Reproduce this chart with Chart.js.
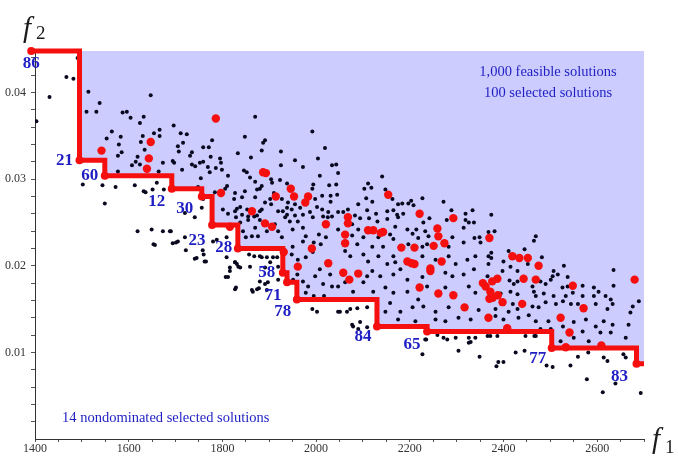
<!DOCTYPE html>
<html>
<head>
<meta charset="utf-8">
<script src="https://cdn.jsdelivr.net/npm/chart.js@4.4.1/dist/chart.umd.min.js"></script>
<style>
  html, body { margin: 0; padding: 0; background: #fff; }
  #wrap { width: 678px; height: 458px; }
</style>
</head>
<body>
<div id="wrap"><canvas id="paretoChart" width="678" height="458"></canvas></div>
<script>
// nondominated selected solutions (staircase corners), in order of f1
var frontIds = ['86', '21', '60', '12', '30', '23', '28', '58', '71', '78', '84', '65', '77', '83'];
var frontF1 = [1392, 1495, 1549, 1692, 1756, 1778, 1833, 1929, 1938, 1959, 2130, 2237, 2503, 2684];
var frontF2 = [0.0448, 0.0322, 0.0304, 0.0289, 0.0280, 0.0247, 0.0220, 0.0192, 0.0181, 0.0161, 0.0130, 0.0124, 0.0105, 0.0087];
var frontEndF1 = 2700;

// other selected solutions (red)
var selected = [
  [1542,.0333],[1647,.0343],[1643,.0324],[1639,.0312],[1786,.0370],[1887,.0308],[1893,.0307],[1946,.0289],
  [1914,.0280],[1953,.0280],[1983,.0280],[1977,.0273],[1797,.0284],[1863,.0263],[1891,.0249],[1906,.0245],
  [2021,.0248],[1816,.0245],[1991,.0220],[1961,.0199],[2026,.0203],[1931,.0216],[2154,.0282],[2221,.0260],
  [2293,.0255],[2068,.0256],[2068,.0249],[2111,.0241],[2122,.0241],[2143,.0239],[2062,.0236],[2062,.0226],
  [2259,.0243],[2261,.0234],[2274,.0226],[2251,.0223],[2182,.0221],[2210,.0221],[2058,.0192],[2071,.0184],
  [2090,.0191],[2195,.0205],[2210,.0202],[2204,.0203],[2244,.0194],[2244,.0197],[2268,.0205],[2221,.0175],
  [2261,.0168],[2293,.0166],[2317,.0152],[2356,.0180],[2370,.0232],[2419,.0211],[2434,.0209],[2452,.0209],
  [2475,.0200],[2387,.0185],[2376,.0182],[2443,.0185],[2469,.0184],[2548,.0177],[2680,.0184],[2370,.0162],
  [2398,.0158],[2440,.0156],[2368,.0140],[2522,.0140],[2571,.0151],[2541,.0123],[2408,.0128],[2533,.0106],
  [2609,.0108],[2362,.0176],[2372,.0170],[2377,.0163],[2388,.0166],[2138,.0238]
];

// feasible solutions (black)
var feasible = [
  [1491,.0440],[1467,.0418],[1482,.0416],[1431,.0395],[1403,.0367],[1514,.0401],[1538,.0388],[1510,.0378],
  [1531,.0378],[1647,.0397],[1587,.0377],[1596,.0378],[1604,.0371],[1624,.0365],[1632,.0372],[1564,.0355],
  [1553,.0347],[1583,.0349],[1579,.0340],[1585,.0331],[1577,.0327],[1630,.0350],[1654,.0353],[1666,.0350],
  [1666,.0357],[1626,.0343],[1634,.0334],[1619,.0326],[1615,.0320],[1607,.0316],[1624,.0317],[1696,.0362],
  [1711,.0353],[1705,.0338],[1716,.0342],[1707,.0332],[1694,.0321],[1697,.0319],[1673,.0319],[1664,.0309],
  [1714,.0311],[1577,.0309],[1502,.0294],[1544,.0293],[1572,.0291],[1613,.0293],[1632,.0286],[1636,.0285],
  [1660,.0296],[1675,.0288],[1549,.0272],[1651,.0288],
  [1870,.0372],[1992,.0355],[1848,.0349],[1891,.0345],[1887,.0342],[1884,.0333],[1925,.0332],[1833,.0330],
  [1778,.0345],[1759,.0337],[1771,.0337],[1735,.0331],[1731,.0327],[1724,.0352],[1775,.0326],[1795,.0324],
  [1797,.0319],[1759,.0320],[1752,.0319],[1735,.0317],[1742,.0315],[1769,.0314],[1786,.0313],[1799,.0311],
  [1773,.0308],[1754,.0301],[1812,.0304],[1846,.0310],[1852,.0308],[1861,.0325],[1859,.0302],[1870,.0297],
  [1884,.0292],[1880,.0289],[1904,.0300],[1906,.0296],[1923,.0299],[1925,.0316],[1938,.0295],[1955,.0322],
  [1972,.0314],[2004,.0324],[2019,.0336],[2008,.0304],[2028,.0293],[2034,.0316],[1994,.0294],[1992,.0289],
  [1998,.0277],[2013,.0281],[2031,.0281],[2031,.0274],[2002,.0268],[2013,.0265],[1966,.0267],[1955,.0271],
  [1940,.0273],[1938,.0267],[1927,.0277],[1910,.0284],[1902,.0277],[1904,.0271],[1891,.0273],[1884,.0265],
  [1870,.0279],[1874,.0288],[1848,.0286],[1842,.0279],[1827,.0284],[1825,.0277],[1810,.0292],[1806,.0289],
  [1784,.0285],[1759,.0277],[1748,.0291],[1838,.0268],[1831,.0266],[1812,.0260],[1855,.0257],[1874,.0258],
  [1919,.0263],[1938,.0259],[1955,.0258],[1987,.0262],[2015,.0257],[2026,.0262],[2034,.0257],
  [1649,.0242],[1673,.0240],[1690,.0240],[1656,.0224],[1694,.0226],[1705,.0228],[1720,.0233],[1722,.0218],
  [1745,.0209],[1758,.0218],[1760,.0213],[1765,.0205],[1741,.0256],[1756,.0267],[1720,.0261],[1780,.0228],
  [1788,.0230],[1809,.0233],[1809,.0210],[1816,.0198],[1807,.0187],[1827,.0204],[1831,.0202],[1834,.0199],
  [1838,.0198],[1829,.0175],[1857,.0213],[1859,.0199],[1868,.0211],[1880,.0211],[1895,.0210],[1902,.0204],
  [1917,.0210],[1919,.0199],[1891,.0198],[1880,.0182],[1891,.0179],[1897,.0181],[1863,.0172],[1874,.0173],
  [1878,.0174],[1895,.0172],[1919,.0184],
  [1801,.0265],[1827,.0263],[1829,.0256],[1842,.0259],[1853,.0265],[1855,.0253],[1838,.0250],[1868,.0257],
  [1880,.0263],[1880,.0253],[1870,.0244],[1844,.0240],[1850,.0233],[1863,.0234],[1876,.0234],[1895,.0240],
  [1912,.0248],[1919,.0240],[1927,.0233],[1929,.0263],[1948,.0265],[1944,.0251],[1934,.0256],[1961,.0251],
  [1950,.0242],[1972,.0244],[1978,.0234],[1972,.0228],[1950,.0222],[1948,.0213],[1961,.0207],[1978,.0210],
  [1993,.0216],[1995,.0227],[2010,.0225],[2006,.0236],[2021,.0233],[2025,.0256],[1993,.0256],[1972,.0259],
  [2008,.0196],[2030,.0190],[1998,.0188],[2015,.0179],[1983,.0176],[1972,.0182],[1960,.0190],[1951,.0184],
  [2034,.0176],[1978,.0169],[1995,.0165],[2017,.0165],[1961,.0199],
  [1619,.0240],[1688,.0240],[1653,.0225],[1701,.0227],[1741,.0208],[1762,.0205],[1812,.0187],[1827,.0173],
  [1816,.0194],[1827,.0204],[1865,.0170],[1884,.0210],[1908,.0210],[1992,.0150],[2002,.0147],[2047,.0147],
  [2043,.0317],[2047,.0307],[2043,.0294],[2045,.0282],[2141,.0303],[2111,.0295],[2103,.0289],[2118,.0290],
  [2148,.0288],[2107,.0278],[2120,.0274],[2163,.0277],[2175,.0271],[2184,.0272],[2197,.0272],[2203,.0275],
  [2208,.0270],[2227,.0278],[2272,.0274],[2090,.0271],[2068,.0265],[2058,.0262],[2047,.0262],[2083,.0258],
  [2094,.0255],[2109,.0264],[2113,.0255],[2128,.0260],[2131,.0251],[2152,.0263],[2152,.0254],[2165,.0264],
  [2173,.0259],[2175,.0256],[2186,.0260],[2169,.0245],[2077,.0248],[2090,.0242],[2047,.0242],[2077,.0235],
  [2101,.0233],[2133,.0233],[2158,.0236],[2165,.0231],[2195,.0242],[2206,.0237],[2214,.0242],[2229,.0250],
  [2233,.0240],[2240,.0234],[2218,.0232],[2242,.0255],[2279,.0253],[2289,.0264],[2319,.0260],[2334,.0264],
  [2315,.0244],[2326,.0250],[2337,.0250],[2319,.0253],[2338,.0232],[2349,.0233],[2351,.0227],[2315,.0227],
  [2291,.0233],[2283,.0222],[2237,.0225],[2227,.0222],[2197,.0225],[2143,.0222],[2120,.0222],[2088,.0225],
  [2062,.0217],[2073,.0211],[2101,.0213],[2111,.0205],[2133,.0211],[2152,.0202],[2165,.0211],[2169,.0204],
  [2180,.0196],[2227,.0211],[2255,.0207],[2283,.0211],[2298,.0202],[2323,.0207],[2340,.0211],[2337,.0196],
  [2315,.0190],[2291,.0188],[2276,.0192],[2227,.0187],[2195,.0184],[2165,.0190],[2137,.0188],[2120,.0194],
  [2109,.0188],[2101,.0181],[2062,.0181],[2047,.0176],[2079,.0170],[2122,.0170],[2148,.0175],[2165,.0169],
  [2195,.0170],[2237,.0176],[2276,.0175],[2326,.0176],[2340,.0169],[2218,.0161],[2158,.0157],[2148,.0147],
  [2180,.0147],[2206,.0152],[2229,.0153],[2255,.0147],[2283,.0152],[2304,.0140],[2330,.0138],[2347,.0149],
  [2175,.0138],[2212,.0136],[2255,.0138],[2276,.0136],
  [2051,.0147],[2066,.0147],[2073,.0150],[2088,.0151],[2109,.0152],[2094,.0135],[2109,.0129],[2077,.0132],
  [2233,.0115],[2272,.0117],[2298,.0117],[2326,.0117],[2340,.0117],[2330,.0112],
  [2079,.0130],[2090,.0127],[2227,.0098],[2235,.0115],[2259,.0120],[2280,.0115],[2304,.0102],[2326,.0111],
  [2349,.0095],[2366,.0119],[2387,.0119],[2385,.0084],[2389,.0089],[2400,.0089],[2426,.0100],[2445,.0102],
  [2466,.0119],[2492,.0085],[2505,.0083],[2543,.0085],[2559,.0095],[2578,.0069],[2581,.0100],[2612,.0054],
  [2614,.0094],[2622,.0090],[2639,.0064],[2656,.0098],[2661,.0094],[2693,.0053],
  [2374,.0259],[2368,.0239],[2381,.0240],[2469,.0234],[2465,.0229],[2374,.0215],[2368,.0211],[2374,.0209],
  [2411,.0217],[2445,.0219],[2482,.0210],[2368,.0202],[2400,.0205],[2415,.0199],[2452,.0202],[2529,.0200],
  [2398,.0194],[2430,.0194],[2366,.0188],[2413,.0183],[2422,.0179],[2430,.0182],[2479,.0182],[2490,.0179],
  [2507,.0194],[2516,.0190],[2505,.0188],[2501,.0184],[2537,.0187],[2526,.0175],[2537,.0176],[2569,.0177],
  [2593,.0175],[2635,.0195],[2635,.0177],[2462,.0176],
  [2372,.0170],[2394,.0168],[2415,.0170],[2430,.0167],[2465,.0170],[2469,.0165],[2486,.0168],[2507,.0165],
  [2533,.0165],[2548,.0169],[2569,.0165],[2593,.0165],[2603,.0170],[2618,.0165],[2629,.0161],[2633,.0156],
  [2622,.0150],[2597,.0156],[2559,.0156],[2544,.0156],[2527,.0159],[2512,.0156],[2490,.0158],[2475,.0152],
  [2462,.0153],[2420,.0156],[2430,.0150],[2411,.0147],[2383,.0150],[2383,.0142],[2400,.0138],[2432,.0140],
  [2454,.0143],[2469,.0136],[2496,.0136],[2479,.0127],[2501,.0127],[2527,.0130],[2550,.0135],[2576,.0138],
  [2569,.0124],[2597,.0130],[2614,.0136],[2633,.0132],[2667,.0132],[2671,.0146],[2676,.0153],[2689,.0159],
  [2661,.0117],[2629,.0123],[2607,.0123],[2582,.0113],[2550,.0117],[2522,.0113],[2469,.0119],[2447,.0119],
  [2372,.0119]
];

// axes
var xMin = 1400, xMax = 2700, yMin = 0, yMax = 0.0448;
var xTickLabels = [1400, 1600, 1800, 2000, 2200, 2400, 2600];
var yTickLabels = [0.01, 0.02, 0.03, 0.04];
var xMinorStep = 50, yMinorStep = 0.002;

var noteTop = ['1,000 feasible solutions', '100 selected solutions'];
var noteBottom = '14 nondominated selected solutions';

// where each frontier number sits relative to its point (px)
var labelOffsets = [[0, 13], [-15, 0], [-15, 0], [-15, 13], [-17, 12], [-15, 16], [-14, -1],
  [-16, 0], [-14, 13], [-14, 12], [-14, 10], [-15, 13], [-14, 11], [-17, 13]];

var RED = 'rgb(245,15,15)';
var SHADE = 'rgb(204,204,255)';
var BLUE = 'rgb(30,30,195)';
var SERIF = '"Liberation Serif", "Times New Roman", serif';

var frontPts = frontF1.map(function (x, i) { return { x: x, y: frontF2[i] }; });
frontPts.push({ x: frontEndF1, y: frontF2[frontF2.length - 1] });

var xTickVals = [];
for (var v = xMin; v <= xMax + 0.1; v += xMinorStep) xTickVals.push(v);
var yTickVals = [];
for (var k = 1; k * yMinorStep <= yMax; k++) yTickVals.push(+(k * yMinorStep).toFixed(3));

function isLabel(list, v) {
  return list.some(function (t) { return Math.abs(t - v) < 1e-9; });
}

var notesPlugin = {
  id: 'notes',
  afterDatasetsDraw: function (chart) {
    var ctx = chart.ctx;
    var meta = chart.getDatasetMeta(0);
    ctx.save();
    ctx.fillStyle = BLUE;
    ctx.textAlign = 'center';
    ctx.textBaseline = 'middle';
    ctx.font = 'bold 17px ' + SERIF;
    frontIds.forEach(function (id, i) {
      var pt = meta.data[i];
      ctx.fillText(id, pt.x + labelOffsets[i][0], pt.y + labelOffsets[i][1]);
    });
    ctx.font = '14.5px ' + SERIF;
    ctx.fillText(noteTop[0], 548, 72);
    ctx.fillText(noteTop[1], 548, 93);
    ctx.textAlign = 'left';
    ctx.fillText(noteBottom, 62, 418);

    // axis names
    ctx.fillStyle = '#1a1a1a';
    ctx.textBaseline = 'alphabetic';
    ctx.font = 'italic 29px ' + SERIF;
    ctx.fillText('f', 23, 37);
    ctx.font = '19px ' + SERIF;
    ctx.fillText('2', 36, 39);
    ctx.font = 'italic 29px ' + SERIF;
    ctx.fillText('f', 652, 448);
    ctx.font = '19px ' + SERIF;
    ctx.fillText('1', 665, 453);
    ctx.restore();
  }
};

var ctx = document.getElementById('paretoChart');
var chart = new Chart(ctx, {
  type: 'scatter',
  data: {
    datasets: [{
      type: 'line',
      label: 'nondominated',
      data: frontPts,
      stepped: 'before',
      borderColor: RED,
      borderWidth: 5,
      backgroundColor: SHADE,
      fill: 'end',
      pointRadius: function (c) { return c.dataIndex < frontIds.length ? 4 : 0; },
      pointBackgroundColor: RED,
      pointBorderWidth: 0,
      clip: false,
      order: 0
    }, {
      label: 'selected',
      data: selected.map(function (p) { return { x: p[0], y: p[1] }; }),
      pointRadius: 4.2,
      pointBackgroundColor: RED,
      pointBorderWidth: 0,
      order: 1
    }, {
      label: 'feasible',
      data: feasible.map(function (p) { return { x: p[0], y: p[1] }; }),
      pointRadius: 2,
      pointBackgroundColor: 'rgb(8,8,30)',
      pointBorderWidth: 0,
      order: 2
    }]
  },
  options: {
    responsive: false,
    animation: false,
    devicePixelRatio: 1,
    events: [],
    layout: { padding: { top: 51, right: 34, left: 0, bottom: 0 } },
    plugins: {
      legend: { display: false },
      tooltip: { enabled: false },
      filler: { drawTime: 'beforeDatasetsDraw' }
    },
    scales: {
      x: {
        type: 'linear',
        min: xMin,
        max: xMax,
        afterBuildTicks: function (s) { s.ticks = xTickVals.map(function (v) { return { value: v }; }); },
        afterFit: function (s) { s.height = 19; },
        grid: { drawOnChartArea: false, tickLength: 3, color: '#555' },
        border: { color: '#333', width: 1 },
        ticks: {
          autoSkip: false, maxRotation: 0, padding: 0,
          color: '#333', font: { family: SERIF, size: 12 },
          callback: function (v) { return isLabel(xTickLabels, v) ? String(v) : ''; }
        }
      },
      y: {
        type: 'linear',
        min: yMin,
        max: yMax,
        afterBuildTicks: function (s) { s.ticks = yTickVals.map(function (v) { return { value: v }; }); },
        afterFit: function (s) { s.width = 35; },
        grid: { drawOnChartArea: false, tickLength: 4, color: '#555' },
        border: { color: '#333', width: 1 },
        ticks: {
          autoSkip: false, padding: 5,
          color: '#333', font: { family: SERIF, size: 12 },
          callback: function (v) { return isLabel(yTickLabels, v) ? String(v) : ''; }
        }
      }
    }
  },
  plugins: [notesPlugin]
});
</script>
</body>
</html>
